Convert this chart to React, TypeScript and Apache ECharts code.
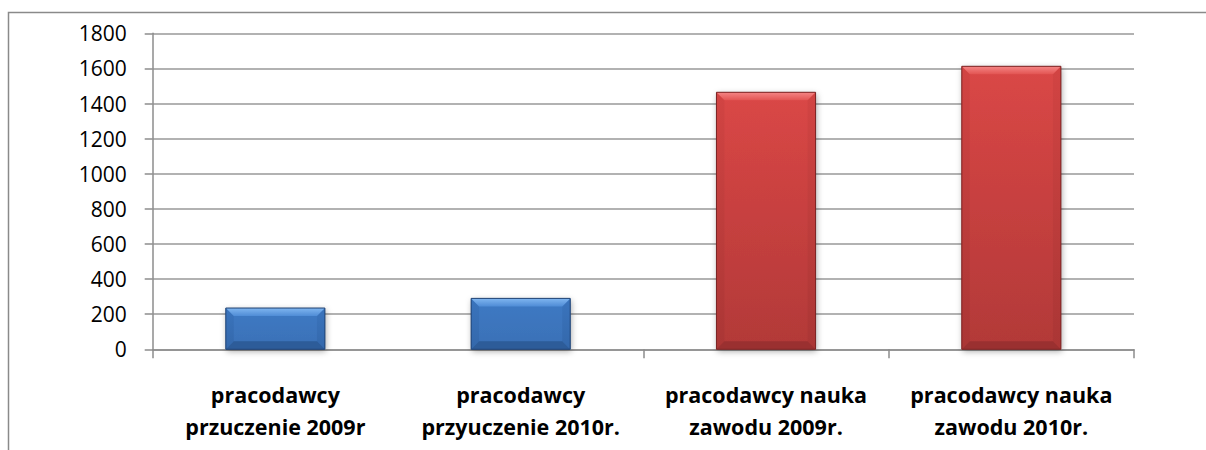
import React, { useEffect, useRef } from "react";
import * as echarts from "echarts";

const categories = [
  "pracodawcy\nprzuczenie 2009r",
  "pracodawcy\nprzyuczenie 2010r.",
  "pracodawcy nauka\nzawodu 2009r.",
  "pracodawcy nauka\nzawodu 2010r.",
];
const values = [235, 290, 1464, 1612];
const barKinds = ["blue", "blue", "red", "red"];
const yTicks = { min: 0, max: 1800, interval: 200 };

// [topFaceLight, topFaceDark, bodyTop, bodyBottom, sideTop, sideBottom, bottomFace, edge]
const palette: Record<string, string[]> = {
  blue: ["#80b6f0", "#4f8cd6", "#3e7ac4", "#3a70b6", "#3a74bd", "#3468ab", "#2d5c99", "#1f4273"],
  red: ["#f58585", "#e25452", "#da4746", "#b23938", "#d24443", "#aa3635", "#9a3030", "#7a2323"],
};

export default function App() {
  const ref = useRef<HTMLDivElement>(null);
  useEffect(() => {
    document.body.style.margin = "0";
    document.body.style.overflow = "hidden";
    if (!ref.current) return;
    const chart = echarts.init(ref.current, undefined, { renderer: "svg" });

    const vgrad = (a: string, b: string) =>
      new echarts.graphic.LinearGradient(0, 0, 0, 1, [
        { offset: 0, color: a },
        { offset: 1, color: b },
      ]);

    const renderItem = (params: any, api: any) => {
      const idx = api.value(0);
      const val = api.value(1);
      const topPt = api.coord([idx, val]);
      const basePt = api.coord([idx, 0]);
      const band = api.size([1, 0])[0];
      const w = band * 0.404;
      const l = topPt[0] - w / 2;
      const r = topPt[0] + w / 2;
      const t = topPt[1];
      const bt = basePt[1];
      const h = bt - t;
      const b = Math.min(8, h / 2, w / 2);
      const c = palette[barKinds[params.dataIndex]];
      return {
        type: "group",
        children: [
          {
            type: "rect",
            shape: { x: l, y: t, width: w, height: h },
            style: {
              fill: vgrad(c[2], c[3]),
              shadowColor: "rgba(0,0,0,0.35)",
              shadowBlur: 6,
              shadowOffsetX: 1,
              shadowOffsetY: 2,
            },
          },
          {
            type: "polygon",
            shape: { points: [[l, t], [l + b, t + b], [l + b, bt - b], [l, bt]] },
            style: { fill: vgrad(c[4], c[5]) },
          },
          {
            type: "polygon",
            shape: { points: [[r, t], [r - b, t + b], [r - b, bt - b], [r, bt]] },
            style: { fill: vgrad(c[4], c[5]) },
          },
          {
            type: "polygon",
            shape: { points: [[l, t], [r, t], [r - b, t + b], [l + b, t + b]] },
            style: { fill: vgrad(c[0], c[1]) },
          },
          {
            type: "polygon",
            shape: { points: [[l, bt], [r, bt], [r - b, bt - b], [l + b, bt - b]] },
            style: { fill: c[6] },
          },
          {
            type: "rect",
            shape: { x: l, y: t, width: w, height: h },
            style: { fill: "none", stroke: c[7], lineWidth: 1 },
          },
        ],
      };
    };

    chart.setOption({
      animation: false,
      backgroundColor: "#ffffff",
      graphic: [
        {
          type: "rect",
          shape: { x: 8.5, y: 12.5, width: 1400, height: 600 },
          style: { fill: "none", stroke: "#8a8a8a", lineWidth: 1.5 },
          silent: true,
          z: 100,
        },
      ],
      grid: { left: 152.7, right: 72, top: 33.3, bottom: 100.7, containLabel: false },
      xAxis: {
        type: "category",
        data: categories,
        boundaryGap: true,
        axisLine: { show: true, lineStyle: { color: "#8c8c8c", width: 1.5 } },
        axisTick: { show: true, length: 9, interval: 1, lineStyle: { color: "#8c8c8c", width: 1.5 } },
        axisLabel: {
          interval: 0,
          margin: 29,
          color: "#000000",
          fontFamily: "Open Sans",
          fontWeight: "bold",
          fontSize: 21.5,
          lineHeight: 32,
        },
        splitLine: { show: false },
      },
      yAxis: {
        type: "value",
        min: yTicks.min,
        max: yTicks.max,
        interval: yTicks.interval,
        axisLine: { show: true, lineStyle: { color: "#8c8c8c", width: 1.5 } },
        axisTick: { show: true, inside: false, length: 8, lineStyle: { color: "#8c8c8c", width: 1.5 } },
        axisLabel: {
          margin: 26,
          color: "#000000",
          fontFamily: "Open Sans",
          fontSize: 21,
          formatter: (v: number) => String(v),
        },
        splitLine: { show: true, lineStyle: { color: "#999999", width: 1.5 } },
      },
      series: [
        {
          type: "custom",
          renderItem,
          encode: { x: 0, y: 1 },
          data: values.map((v, i) => [i, v]),
        },
      ],
    });
    return () => chart.dispose();
  }, []);
  return <div ref={ref} style={{ width: 1206, height: 450 }} />;
}
